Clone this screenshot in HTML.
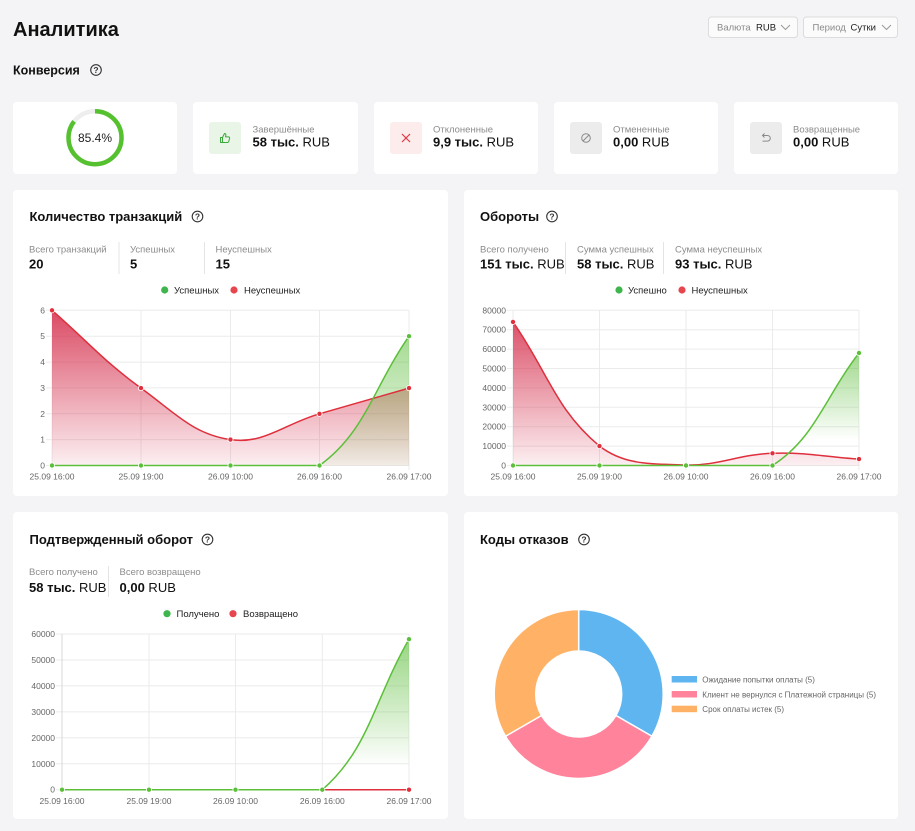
<!DOCTYPE html>
<html lang="ru">
<head>
<meta charset="utf-8">
<title>Аналитика</title>
<style>
  html,body{margin:0;padding:0;background:#f4f4f6;}
  body{width:915px;height:831px;overflow:hidden;}
  svg{display:block;}
  text{font-family:"Liberation Sans","Noto Sans CJK SC",sans-serif;}
</style>
</head>
<body>
<svg width="915" height="831" viewBox="0 0 915 831" xmlns="http://www.w3.org/2000/svg">
  <defs>
    <linearGradient id="red1" gradientUnits="userSpaceOnUse" x1="0" y1="310" x2="0" y2="466">
      <stop offset="0" stop-color="#d42a48" stop-opacity="0.85"/>
      <stop offset="1" stop-color="#d42a48" stop-opacity="0.07"/>
    </linearGradient>
    <linearGradient id="green1" gradientUnits="userSpaceOnUse" x1="0" y1="336" x2="0" y2="466">
      <stop offset="0" stop-color="#5cbd3a" stop-opacity="0.55"/>
      <stop offset="1" stop-color="#5cbd3a" stop-opacity="0.06"/>
    </linearGradient>
    <linearGradient id="red2" gradientUnits="userSpaceOnUse" x1="0" y1="315" x2="0" y2="466">
      <stop offset="0" stop-color="#d42a48" stop-opacity="0.85"/>
      <stop offset="1" stop-color="#d42a48" stop-opacity="0.07"/>
    </linearGradient>
    <linearGradient id="green2" gradientUnits="userSpaceOnUse" x1="0" y1="350" x2="0" y2="440">
      <stop offset="0" stop-color="#5cbd3a" stop-opacity="0.6"/>
      <stop offset="1" stop-color="#5cbd3a" stop-opacity="0"/>
    </linearGradient>
    <linearGradient id="green3" gradientUnits="userSpaceOnUse" x1="0" y1="636" x2="0" y2="766">
      <stop offset="0" stop-color="#5cbd3a" stop-opacity="0.65"/>
      <stop offset="1" stop-color="#5cbd3a" stop-opacity="0"/>
    </linearGradient>
  </defs>

  <!-- Header -->
  <text x="13" y="36" font-size="20" font-weight="bold" fill="#111">Аналитика</text>

  <!-- Dropdowns -->
  <rect x="708.5" y="17" width="89" height="20.5" rx="3" fill="#fbfbfb" stroke="#dcdcdc"/>
  <text x="717" y="30.5" font-size="9.5" fill="#8a8a8a">Валюта</text>
  <text x="756" y="30.5" font-size="9.5" fill="#222">RUB</text>
  <polyline points="781,25 785.5,29.5 790,25" fill="none" stroke="#9a9a9a" stroke-width="1"/>
  <rect x="803.5" y="17" width="94" height="20.5" rx="3" fill="#fbfbfb" stroke="#dcdcdc"/>
  <text x="812.5" y="30.5" font-size="9.5" fill="#8a8a8a">Период</text>
  <text x="850.5" y="30.5" font-size="9.5" fill="#222">Сутки</text>
  <polyline points="882,25 886.5,29.5 891,25" fill="none" stroke="#9a9a9a" stroke-width="1"/>

  <!-- Конверсия -->
  <text x="13" y="74.5" font-size="12.5" font-weight="bold" fill="#111">Конверсия</text>
  <g transform="translate(96,70)">
    <circle r="5.3" fill="none" stroke="#333" stroke-width="1.1"/>
    <text y="3" font-size="8.5" text-anchor="middle" fill="#333" font-weight="bold">?</text>
  </g>

  <!-- KPI cards -->
  <rect x="13" y="102" width="164" height="72" rx="4" fill="#fff"/>
  <rect x="193" y="102" width="165" height="72" rx="4" fill="#fff"/>
  <rect x="374" y="102" width="164" height="72" rx="4" fill="#fff"/>
  <rect x="554" y="102" width="164" height="72" rx="4" fill="#fff"/>
  <rect x="734" y="102" width="164" height="72" rx="4" fill="#fff"/>

  <!-- donut conversion -->
  <circle cx="95" cy="137.7" r="26.5" fill="none" stroke="#eeeeee" stroke-width="4.5"/>
  <circle cx="95" cy="137.7" r="26.5" fill="none" stroke="#55c12f" stroke-width="4.5"
          stroke-dasharray="142.2 200" transform="rotate(-90 95 137.7)"/>
  <text x="95" y="141.8" font-size="12" text-anchor="middle" fill="#222">85.4%</text>

  <!-- card 2 -->
  <rect x="209" y="122" width="32" height="32" rx="3" fill="#e9f6e7"/>
  <g fill="none" stroke="#3aa83a" stroke-width="1" stroke-linejoin="round">
    <rect x="220.5" y="137.5" width="2" height="5"/>
    <path d="M222.5,137.5 l2,-4 c1,0 1.6,0.6 1.4,1.6 l-0.4,1.8 h3 c0.8,0 1.3,0.7 1.1,1.4 l-0.9,3.3 c-0.2,0.5 -0.6,0.9 -1.1,0.9 h-5.1"/>
  </g>
  <text x="252.5" y="132.3" font-size="9.5" fill="#8c8c8c">Завершённые</text>
  <text x="252.5" y="146.5" font-size="13" fill="#111"><tspan font-weight="bold">58 тыс.</tspan> RUB</text>

  <!-- card 3 -->
  <rect x="390" y="122" width="32" height="32" rx="3" fill="#fdecec"/>
  <g stroke="#e53945" stroke-width="1.2">
    <line x1="402" y1="134" x2="410" y2="142"/>
    <line x1="410" y1="134" x2="402" y2="142"/>
  </g>
  <text x="433" y="132.3" font-size="9.5" fill="#8c8c8c">Отклоненные</text>
  <text x="433" y="146.5" font-size="13" fill="#111"><tspan font-weight="bold">9,9 тыс.</tspan> RUB</text>

  <!-- card 4 -->
  <rect x="570" y="122" width="32" height="32" rx="3" fill="#ececec"/>
  <g fill="none" stroke="#8a8a8a" stroke-width="1">
    <circle cx="586" cy="138" r="4.3"/>
    <line x1="583" y1="141" x2="589" y2="135"/>
  </g>
  <text x="613" y="132.3" font-size="9.5" fill="#8c8c8c">Отмененные</text>
  <text x="613" y="146.5" font-size="13" fill="#111"><tspan font-weight="bold">0,00</tspan> RUB</text>

  <!-- card 5 -->
  <rect x="750" y="122" width="32" height="32" rx="3" fill="#ececec"/>
  <g fill="none" stroke="#8a8a8a" stroke-width="1">
    <path d="M762.5,135.5 h5 a2.8,2.8 0 0 1 0,5.6 h-5"/>
    <path d="M764.5,133.5 l-2,2 l2,2"/>
  </g>
  <text x="793" y="132.3" font-size="9.5" fill="#8c8c8c">Возвращенные</text>
  <text x="793" y="146.5" font-size="13" fill="#111"><tspan font-weight="bold">0,00</tspan> RUB</text>

  <!-- Panels -->
  <rect x="13" y="190" width="435" height="306" rx="4" fill="#fff"/>
  <rect x="464" y="190" width="434" height="306" rx="4" fill="#fff"/>
  <rect x="13" y="512" width="435" height="307" rx="4" fill="#fff"/>
  <rect x="464" y="512" width="434" height="307" rx="4" fill="#fff"/>

  <!-- ============ Panel 1 ============ -->
  <text x="29.5" y="221" font-size="13" font-weight="bold" fill="#111">Количество транзакций</text>
  <g transform="translate(197.5,216.5)">
    <circle r="5.3" fill="none" stroke="#333" stroke-width="1.1"/>
    <text y="3" font-size="8.5" text-anchor="middle" fill="#333" font-weight="bold">?</text>
  </g>
  <text x="29" y="252.5" font-size="9.5" fill="#8c8c8c">Всего транзакций</text>
  <text x="29" y="268.5" font-size="13" font-weight="bold" fill="#111">20</text>
  <line x1="119" y1="242" x2="119" y2="274" stroke="#e4e4e4"/>
  <text x="130" y="252.5" font-size="9.5" fill="#8c8c8c">Успешных</text>
  <text x="130" y="268.5" font-size="13" font-weight="bold" fill="#111">5</text>
  <line x1="204.5" y1="242" x2="204.5" y2="274" stroke="#e4e4e4"/>
  <text x="215.5" y="252.5" font-size="9.5" fill="#8c8c8c">Неуспешных</text>
  <text x="215.5" y="268.5" font-size="13" font-weight="bold" fill="#111">15</text>

  <circle cx="164.7" cy="290" r="3.6" fill="#3fb54d"/>
  <text x="174" y="293.3" font-size="9.5" fill="#222">Успешных</text>
  <circle cx="234" cy="290" r="3.6" fill="#e8464f"/>
  <text x="244" y="293.3" font-size="9.5" fill="#222">Неуспешных</text>

  <g stroke="#ebebeb" stroke-width="1">
    <line x1="46" y1="310.3" x2="409" y2="310.3"/>
    <line x1="46" y1="336.2" x2="409" y2="336.2"/>
    <line x1="46" y1="362.1" x2="409" y2="362.1"/>
    <line x1="46" y1="387.9" x2="409" y2="387.9"/>
    <line x1="46" y1="413.8" x2="409" y2="413.8"/>
    <line x1="46" y1="439.6" x2="409" y2="439.6"/>
    <line x1="46" y1="465.5" x2="409" y2="465.5"/>
    <line x1="52" y1="310.3" x2="52" y2="470"/>
    <line x1="141" y1="310.3" x2="141" y2="470"/>
    <line x1="230.5" y1="310.3" x2="230.5" y2="470"/>
    <line x1="319.5" y1="310.3" x2="319.5" y2="470"/>
    <line x1="409" y1="310.3" x2="409" y2="470"/>
  </g>
  <g font-size="8.5" fill="#666" text-anchor="end">
    <text x="45" y="313.3">6</text>
    <text x="45" y="339.2">5</text>
    <text x="45" y="365.1">4</text>
    <text x="45" y="390.9">3</text>
    <text x="45" y="416.8">2</text>
    <text x="45" y="442.6">1</text>
    <text x="45" y="468.5">0</text>
  </g>
  <g font-size="8.5" fill="#666" text-anchor="middle">
    <text x="52" y="479.5">25.09 16:00</text>
    <text x="141" y="479.5">25.09 19:00</text>
    <text x="230.5" y="479.5">26.09 10:00</text>
    <text x="319.5" y="479.5">26.09 16:00</text>
    <text x="409" y="479.5">26.09 17:00</text>
  </g>
  <path d="M52,310.3 C87.6,341.4 102.9,360.5 141,388.1 C174.3,412.2 192.9,434.2 230.5,439.6 C264.3,444.5 283.9,424.1 319.5,413.8 C355.3,403.5 373.2,398.4 409,388.1 L409,465.5 L52,465.5 Z" fill="url(#red1)"/>
  <path d="M319.5,465.5 C365.1,432.5 373.2,387.9 409,336.2 L409,465.5 Z" fill="url(#green1)"/>
  <path d="M52,310.3 C87.6,341.4 102.9,360.5 141,388.1 C174.3,412.2 192.9,434.2 230.5,439.6 C264.3,444.5 283.9,424.1 319.5,413.8 C355.3,403.5 373.2,398.4 409,388.1" fill="none" stroke="#df2f3c" stroke-width="1.5"/>
  <path d="M52,465.5 L319.5,465.5 C365.1,432.5 373.2,387.9 409,336.2" fill="none" stroke="#5cbf3a" stroke-width="1.5"/>
  <g fill="#e0303c" stroke="#fff" stroke-width="0.8">
    <circle cx="52" cy="310.3" r="2.6"/>
    <circle cx="141" cy="388.1" r="2.6"/>
    <circle cx="230.5" cy="439.6" r="2.6"/>
    <circle cx="319.5" cy="413.8" r="2.6"/>
    <circle cx="409" cy="388.1" r="2.6"/>
  </g>
  <g fill="#5cbf3a" stroke="#fff" stroke-width="0.8">
    <circle cx="52" cy="465.5" r="2.6"/>
    <circle cx="141" cy="465.5" r="2.6"/>
    <circle cx="230.5" cy="465.5" r="2.6"/>
    <circle cx="319.5" cy="465.5" r="2.6"/>
    <circle cx="409" cy="336.2" r="2.6"/>
  </g>

  <!-- ============ Panel 2 ============ -->
  <text x="480" y="221" font-size="13" font-weight="bold" fill="#111">Обороты</text>
  <g transform="translate(552,216.5)">
    <circle r="5.3" fill="none" stroke="#333" stroke-width="1.1"/>
    <text y="3" font-size="8.5" text-anchor="middle" fill="#333" font-weight="bold">?</text>
  </g>
  <text x="480" y="252.5" font-size="9.5" fill="#8c8c8c">Всего получено</text>
  <text x="480" y="268.5" font-size="13" fill="#111"><tspan font-weight="bold">151 тыс.</tspan> RUB</text>
  <line x1="565.5" y1="242" x2="565.5" y2="274" stroke="#e4e4e4"/>
  <text x="577" y="252.5" font-size="9.5" fill="#8c8c8c">Сумма успешных</text>
  <text x="577" y="268.5" font-size="13" fill="#111"><tspan font-weight="bold">58 тыс.</tspan> RUB</text>
  <line x1="663.5" y1="242" x2="663.5" y2="274" stroke="#e4e4e4"/>
  <text x="675" y="252.5" font-size="9.5" fill="#8c8c8c">Сумма неуспешных</text>
  <text x="675" y="268.5" font-size="13" fill="#111"><tspan font-weight="bold">93 тыс.</tspan> RUB</text>

  <circle cx="619" cy="290" r="3.6" fill="#3fb54d"/>
  <text x="628" y="293.3" font-size="9.5" fill="#222">Успешно</text>
  <circle cx="682" cy="290" r="3.6" fill="#e8464f"/>
  <text x="691.5" y="293.3" font-size="9.5" fill="#222">Неуспешных</text>

  <g stroke="#ebebeb" stroke-width="1">
    <line x1="507" y1="310.3" x2="859" y2="310.3"/>
    <line x1="507" y1="329.7" x2="859" y2="329.7"/>
    <line x1="507" y1="349.1" x2="859" y2="349.1"/>
    <line x1="507" y1="368.5" x2="859" y2="368.5"/>
    <line x1="507" y1="387.9" x2="859" y2="387.9"/>
    <line x1="507" y1="407.3" x2="859" y2="407.3"/>
    <line x1="507" y1="426.7" x2="859" y2="426.7"/>
    <line x1="507" y1="446.1" x2="859" y2="446.1"/>
    <line x1="507" y1="465.5" x2="859" y2="465.5"/>
    <line x1="513" y1="310.3" x2="513" y2="470"/>
    <line x1="599.5" y1="310.3" x2="599.5" y2="470"/>
    <line x1="686" y1="310.3" x2="686" y2="470"/>
    <line x1="772.5" y1="310.3" x2="772.5" y2="470"/>
    <line x1="859" y1="310.3" x2="859" y2="470"/>
  </g>
  <g font-size="8.5" fill="#666" text-anchor="end">
    <text x="506" y="313.3">80000</text>
    <text x="506" y="332.7">70000</text>
    <text x="506" y="352.1">60000</text>
    <text x="506" y="371.5">50000</text>
    <text x="506" y="390.9">40000</text>
    <text x="506" y="410.3">30000</text>
    <text x="506" y="429.7">20000</text>
    <text x="506" y="449.1">10000</text>
    <text x="506" y="468.5">0</text>
  </g>
  <g font-size="8.5" fill="#666" text-anchor="middle">
    <text x="513" y="479.5">25.09 16:00</text>
    <text x="599.5" y="479.5">25.09 19:00</text>
    <text x="686" y="479.5">26.09 10:00</text>
    <text x="772.5" y="479.5">26.09 16:00</text>
    <text x="859" y="479.5">26.09 17:00</text>
  </g>
  <path d="M513,321.9 C547.6,371.6 555.8,410 599.5,446.1 C625,465.5 651.1,463.65 686,465.1 C720.3,465.5 737.8,454.5 772.5,453.3 C807,452.1 824.4,456.8 859,459.1 L859,465.5 L513,465.5 Z" fill="url(#red2)"/>
  <path d="M772.5,465.5 C815.5,437.5 824.4,398 859,353 L859,465.5 Z" fill="url(#green2)"/>
  <path d="M513,321.9 C547.6,371.6 555.8,410 599.5,446.1 C625,465.5 651.1,463.65 686,465.1 C720.3,465.5 737.8,454.5 772.5,453.3 C807,452.1 824.4,456.8 859,459.1" fill="none" stroke="#df2f3c" stroke-width="1.5"/>
  <path d="M513,465.5 L772.5,465.5 C815.5,437.5 824.4,398 859,353" fill="none" stroke="#5cbf3a" stroke-width="1.5"/>
  <g fill="#e0303c" stroke="#fff" stroke-width="0.8">
    <circle cx="513" cy="321.9" r="2.6"/>
    <circle cx="599.5" cy="446.1" r="2.6"/>
    <circle cx="686" cy="465.1" r="2.6"/>
    <circle cx="772.5" cy="453.3" r="2.6"/>
    <circle cx="859" cy="459.1" r="2.6"/>
  </g>
  <g fill="#5cbf3a" stroke="#fff" stroke-width="0.8">
    <circle cx="513" cy="465.5" r="2.6"/>
    <circle cx="599.5" cy="465.5" r="2.6"/>
    <circle cx="686" cy="465.5" r="2.6"/>
    <circle cx="772.5" cy="465.5" r="2.6"/>
    <circle cx="859" cy="353" r="2.6"/>
  </g>

  <!-- ============ Panel 3 ============ -->
  <text x="29.5" y="544" font-size="13" font-weight="bold" fill="#111">Подтвержденный оборот</text>
  <g transform="translate(207.5,539.5)">
    <circle r="5.3" fill="none" stroke="#333" stroke-width="1.1"/>
    <text y="3" font-size="8.5" text-anchor="middle" fill="#333" font-weight="bold">?</text>
  </g>
  <text x="29" y="575" font-size="9.5" fill="#8c8c8c">Всего получено</text>
  <text x="29" y="592" font-size="13" fill="#111"><tspan font-weight="bold">58 тыс.</tspan> RUB</text>
  <line x1="108.5" y1="566" x2="108.5" y2="597" stroke="#e4e4e4"/>
  <text x="119.5" y="575" font-size="9.5" fill="#8c8c8c">Всего возвращено</text>
  <text x="119.5" y="592" font-size="13" fill="#111"><tspan font-weight="bold">0,00</tspan> RUB</text>

  <circle cx="167" cy="613.7" r="3.6" fill="#3fb54d"/>
  <text x="176.5" y="617" font-size="9.5" fill="#222">Получено</text>
  <circle cx="233" cy="613.7" r="3.6" fill="#e8464f"/>
  <text x="243" y="617" font-size="9.5" fill="#222">Возвращено</text>

  <g stroke="#ebebeb" stroke-width="1">
    <line x1="56" y1="634" x2="409" y2="634"/>
    <line x1="56" y1="659.95" x2="409" y2="659.95"/>
    <line x1="56" y1="685.9" x2="409" y2="685.9"/>
    <line x1="56" y1="711.85" x2="409" y2="711.85"/>
    <line x1="56" y1="737.8" x2="409" y2="737.8"/>
    <line x1="56" y1="763.75" x2="409" y2="763.75"/>
    <line x1="56" y1="789.7" x2="409" y2="789.7"/>
    <line x1="149" y1="634" x2="149" y2="794"/>
    <line x1="235.5" y1="634" x2="235.5" y2="794"/>
    <line x1="322.3" y1="634" x2="322.3" y2="794"/>
    <line x1="409" y1="634" x2="409" y2="794"/>
  </g>
  <line x1="62" y1="634" x2="62" y2="794" stroke="#d8d8d8" stroke-width="1"/>
  <g font-size="8.5" fill="#666" text-anchor="end">
    <text x="55" y="637">60000</text>
    <text x="55" y="662.95">50000</text>
    <text x="55" y="688.9">40000</text>
    <text x="55" y="714.85">30000</text>
    <text x="55" y="740.8">20000</text>
    <text x="55" y="766.75">10000</text>
    <text x="55" y="792.7">0</text>
  </g>
  <g font-size="8.5" fill="#666" text-anchor="middle">
    <text x="62" y="804">25.09 16:00</text>
    <text x="149" y="804">25.09 19:00</text>
    <text x="235.5" y="804">26.09 10:00</text>
    <text x="322.3" y="804">26.09 16:00</text>
    <text x="409" y="804">26.09 17:00</text>
  </g>
  <path d="M322.3,789.7 C368.6,749.6 374.3,699.4 409,639.2 L409,789.7 Z" fill="url(#green3)"/>
  <line x1="62" y1="789.7" x2="409" y2="789.7" stroke="#df2f3c" stroke-width="1.5"/>
  <path d="M62,789.7 L322.3,789.7 C368.6,749.6 374.3,699.4 409,639.2" fill="none" stroke="#5cbf3a" stroke-width="1.5"/>
  <circle cx="409" cy="789.7" r="2.6" fill="#e0303c" stroke="#fff" stroke-width="0.8"/>
  <g fill="#5cbf3a" stroke="#fff" stroke-width="0.8">
    <circle cx="62" cy="789.7" r="2.6"/>
    <circle cx="149" cy="789.7" r="2.6"/>
    <circle cx="235.5" cy="789.7" r="2.6"/>
    <circle cx="322.3" cy="789.7" r="2.6"/>
    <circle cx="409" cy="639.2" r="2.6"/>
  </g>

  <!-- ============ Panel 4 ============ -->
  <text x="480" y="544" font-size="13" font-weight="bold" fill="#111">Коды отказов</text>
  <g transform="translate(584,539.5)">
    <circle r="5.3" fill="none" stroke="#333" stroke-width="1.1"/>
    <text y="3" font-size="8.5" text-anchor="middle" fill="#333" font-weight="bold">?</text>
  </g>

  <g stroke="#fff" stroke-width="1.5" stroke-linejoin="round">
    <path d="M578.7,609.5 A84.5,84.5 0 0 1 651.88,736.25 L615.94,715.5 A43,43 0 0 0 578.7,651 Z" fill="#5fb5f0"/>
    <path d="M651.88,736.25 A84.5,84.5 0 0 1 505.52,736.25 L541.46,715.5 A43,43 0 0 0 615.94,715.5 Z" fill="#ff839a"/>
    <path d="M505.52,736.25 A84.5,84.5 0 0 1 578.7,609.5 L578.7,651 A43,43 0 0 0 541.46,715.5 Z" fill="#ffb266"/>
  </g>

  <rect x="671.7" y="676" width="25.3" height="6.5" fill="#5fb5f0"/>
  <text x="702.3" y="682.3" font-size="8" fill="#666">Ожидание попытки оплаты (5)</text>
  <rect x="671.7" y="691" width="25.3" height="6.5" fill="#ff839a"/>
  <text x="702.3" y="697.3" font-size="8" fill="#666">Клиент не вернулся с Платежной страницы (5)</text>
  <rect x="671.7" y="705.7" width="25.3" height="6.5" fill="#ffb266"/>
  <text x="702.3" y="712" font-size="8" fill="#666">Срок оплаты истек (5)</text>
</svg>
</body>
</html>
